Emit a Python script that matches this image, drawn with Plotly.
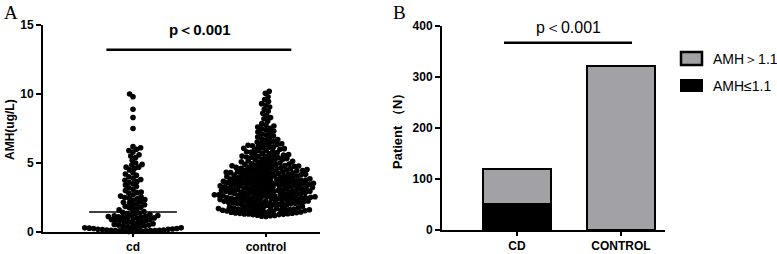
import math
import numpy as np
import plotly.graph_objects as go

W, H = 777, 254

# ---------------- data ----------------
groups_a = ["cd", "control"]
cd_low = [0.02, 0.03, 0.05, 0.05, 0.06, 0.08, 0.08, 0.1, 0.1, 0.1, 0.12, 0.12, 0.15, 0.15, 0.18,
          0.2, 0.2, 0.22, 0.25, 0.25, 0.28, 0.3, 0.3, 0.32, 0.35, 0.38, 0.4, 0.4, 0.45, 0.5,
          0.5, 0.55, 0.6, 0.62, 0.65, 0.7, 0.7, 0.75, 0.8, 0.82, 0.85, 0.9, 0.9, 0.95, 1.0,
          1.0, 1.02, 1.05, 1.08, 1.1]
cd_high = [1.12, 1.15, 1.18, 1.2, 1.24, 1.27, 1.3, 1.33, 1.38, 1.42, 1.48, 1.55, 1.6, 1.68, 1.75,
           1.8, 1.86, 1.92, 1.97,
           2.05, 2.1, 2.15, 2.2, 2.3, 2.35, 2.4, 2.45, 2.5, 2.55, 2.6, 2.7, 2.8, 2.85, 2.9, 3.0,
           3.1, 3.2, 3.3, 3.4, 3.5, 3.6, 3.65, 3.75, 3.8, 3.9, 4.0,
           4.1, 4.2, 4.3, 4.5, 4.6, 4.7, 4.7, 4.85, 4.9,
           5.0, 5.2, 5.4, 5.5, 5.6, 5.8, 5.9, 6.0, 6.1, 6.2,
           7.5, 8.3, 8.9, 9.8, 10.0]
cd_values = cd_low + cd_high

control_values = [
    1.12, 1.15, 1.18, 1.2, 1.22, 1.25, 1.26, 1.28, 1.3, 1.31, 1.33, 1.35, 1.36, 1.38, 1.4, 1.42, 1.44, 1.45, 1.47, 1.49,
    1.5, 1.51, 1.52, 1.54, 1.55, 1.56, 1.58, 1.59, 1.6, 1.61, 1.63, 1.64, 1.66, 1.67, 1.69, 1.7, 1.72, 1.73, 1.75, 1.77,
    1.78, 1.8, 1.82, 1.84, 1.85, 1.88, 1.9, 1.92, 1.95, 1.98,
    2.0, 2.01, 2.03, 2.04, 2.06, 2.07, 2.09, 2.1, 2.11, 2.13, 2.14, 2.16, 2.17, 2.19, 2.2, 2.22, 2.23, 2.25, 2.26, 2.28,
    2.29, 2.31, 2.32, 2.34, 2.35, 2.37, 2.38, 2.4, 2.41, 2.43, 2.44, 2.45, 2.46, 2.48, 2.49,
    2.5, 2.51, 2.53, 2.54, 2.55, 2.57, 2.58, 2.6, 2.61, 2.63, 2.64, 2.66, 2.67, 2.69, 2.7, 2.72, 2.73, 2.74, 2.76, 2.77,
    2.79, 2.8, 2.82, 2.83, 2.85, 2.86, 2.88, 2.89, 2.9, 2.92, 2.93, 2.95, 2.96, 2.98, 2.99,
    3.0, 3.01, 3.03, 3.04, 3.06, 3.07, 3.09, 3.1, 3.12, 3.13, 3.15, 3.16, 3.18, 3.19, 3.21, 3.22, 3.24, 3.25, 3.27, 3.28,
    3.3, 3.31, 3.33, 3.34, 3.36, 3.37, 3.39, 3.4, 3.42, 3.43, 3.44, 3.45, 3.46, 3.48, 3.49,
    3.5, 3.52, 3.53, 3.55, 3.56, 3.58, 3.59, 3.61, 3.62, 3.64, 3.65, 3.67, 3.68, 3.7, 3.71, 3.73, 3.74, 3.76, 3.77, 3.79,
    3.8, 3.82, 3.83, 3.85, 3.86, 3.88, 3.89, 3.91, 3.92, 3.94, 3.96, 3.98,
    4.0, 4.02, 4.03, 4.05, 4.07, 4.08, 4.1, 4.12, 4.13, 4.15, 4.17, 4.18, 4.2, 4.22, 4.23, 4.25, 4.27, 4.28, 4.3, 4.32,
    4.33, 4.35, 4.37, 4.38, 4.4, 4.42, 4.43, 4.45, 4.47, 4.49,
    4.5, 4.52, 4.54, 4.56, 4.58, 4.6, 4.62, 4.64, 4.66, 4.68, 4.7, 4.72, 4.74, 4.76, 4.78, 4.8, 4.82, 4.84, 4.86, 4.88,
    4.9, 4.92, 4.95, 4.98,
    5.0, 5.03, 5.06, 5.09, 5.12, 5.15, 5.18, 5.2, 5.23, 5.26, 5.29, 5.32, 5.35, 5.38, 5.41, 5.44, 5.47, 5.49,
    5.5, 5.54, 5.57, 5.61, 5.64, 5.68, 5.71, 5.75, 5.78, 5.82, 5.85, 5.89, 5.93, 5.97,
    6.0, 6.04, 6.07, 6.11, 6.14, 6.18, 6.21, 6.25, 6.28, 6.32, 6.35, 6.39, 6.43, 6.47,
    6.52, 6.58, 6.64, 6.7, 6.76, 6.82, 6.88, 6.95,
    7.02, 7.1, 7.17, 7.25, 7.32, 7.4, 7.47,
    7.52, 7.6, 7.68, 7.76, 7.85,
    8.05, 8.2, 8.3, 8.45,
    8.6, 8.75, 8.9,
    9.05, 9.2, 9.3, 9.45,
    9.6, 9.8,
    10.05, 10.2,
]
a_ticks = [0, 5, 10, 15]
a_pvalue = "p＜0.001"

groups_b = ["CD", "CONTROL"]
amh_low_counts = [50, 0]      # AMH<=1.1
amh_high_counts = [70, 322]   # AMH>1.1
b_ticks = [0, 100, 200, 300, 400]
b_pvalue = "p＜0.001"
legend_labels = ["AMH＞1.1", "AMH≤1.1"]

GRAY = "#a2a2a6"
FONT = "Liberation Sans, Arial, sans-serif"

# ---------------- layout geometry (pixels) ----------------
A_L, A_R, A_T, A_B = 43, 320, 25, 232
B_L, B_R, B_T, B_B = 442, 665, 26, 230
A_YMAX = 15
B_YMAX = 400
A_PX_PER_CAT = 133.0
A_XMIN = -(133 - A_L) / A_PX_PER_CAT
A_XMAX = A_XMIN + (A_R - A_L) / A_PX_PER_CAT
B_PX_PER_CAT = 104.0
B_XMIN = -(517 - B_L) / B_PX_PER_CAT
B_XMAX = B_XMIN + (B_R - B_L) / B_PX_PER_CAT


def swarm_offsets(vals, px_per_unit_y, d):
    """Beeswarm layout: horizontal pixel offsets so points do not overlap."""
    order = np.argsort(vals, kind="stable")
    placed = []
    offs = np.zeros(len(vals))
    for i in order:
        y = vals[i] * px_per_unit_y
        near = [(px, py) for (px, py) in placed if abs(py - y) < d]
        cands = [0.0]
        for px, py in near:
            s = math.sqrt(max(d * d - (py - y) ** 2, 0.0))
            cands += [px + s, px - s]
        cands.sort(key=lambda c: (abs(c), c))
        chosen = 0.0
        for c in cands:
            ok = all((c - px) ** 2 + (y - py) ** 2 >= d * d - 1e-6 for px, py in near)
            if ok:
                chosen = c
                break
        placed.append((chosen, y))
        offs[i] = chosen
    return offs


def pfx(px):
    return px / W


def pfy(py):
    return 1 - py / H


fig = go.Figure()

ppu_a = (A_B - A_T) / A_YMAX
for gi, vals in enumerate([cd_values, control_values]):
    v = np.array(vals, dtype=float)
    off = swarm_offsets(v, ppu_a, 4.4) / A_PX_PER_CAT
    fig.add_trace(go.Scatter(
        x=gi + off, y=v, mode="markers",
        marker=dict(size=5.6, color="black", line=dict(width=0)),
        cliponaxis=False, showlegend=False, xaxis="x", yaxis="y",
        hoverinfo="skip"))
    med = float(np.median(v))
    fig.add_trace(go.Scatter(
        x=[gi - 0.33, gi + 0.33], y=[med, med], mode="lines",
        line=dict(color="black", width=1.5), showlegend=False,
        xaxis="x", yaxis="y", hoverinfo="skip", cliponaxis=False))

# panel B stacked bars
fig.add_trace(go.Bar(
    x=[0, 1], y=amh_low_counts, width=0.65, marker=dict(color="black", line=dict(color="black", width=2.5)),
    name=legend_labels[1], showlegend=False, xaxis="x2", yaxis="y2"))
fig.add_trace(go.Bar(
    x=[0, 1], y=amh_high_counts, width=0.65, marker=dict(color=GRAY, line=dict(color="black", width=2.5)),
    name=legend_labels[0], showlegend=False, xaxis="x2", yaxis="y2"))

axis_common = dict(
    showline=True, linecolor="black", linewidth=2, ticks="outside", ticklen=5, tickwidth=2,
    tickcolor="black", showgrid=False, zeroline=False, automargin=False,
    tickfont=dict(family=FONT, size=12, color="black", weight="bold"),
)
xfont = dict(family=FONT, size=12, color="black", weight="bold")

fig.update_layout(
    template="none",
    width=W, height=H, margin=dict(l=0, r=0, t=0, b=0, pad=0, autoexpand=False),
    paper_bgcolor="white", plot_bgcolor="white", barmode="stack", showlegend=False,
    xaxis=dict(domain=[pfx(A_L), pfx(A_R)], range=[A_XMIN, A_XMAX], tickvals=[0, 1], ticktext=groups_a,
               anchor="y", **{**axis_common, "tickfont": xfont, "ticklen": 3}),
    yaxis=dict(domain=[pfy(A_B), pfy(A_T)], range=[0, A_YMAX], tickvals=a_ticks, anchor="x", **axis_common),
    xaxis2=dict(domain=[pfx(B_L), pfx(B_R)], range=[B_XMIN, B_XMAX], tickvals=[0, 1], ticktext=groups_b,
                anchor="y2", **{**axis_common, "tickfont": xfont, "ticklen": 4}),
    yaxis2=dict(domain=[pfy(B_B), pfy(B_T)], range=[0, B_YMAX], tickvals=b_ticks, anchor="x2", **axis_common),
)

# significance bars
fig.add_shape(type="line", xref="x", yref="y", x0=-0.2, x1=1.19, y0=13.2, y1=13.2,
              line=dict(color="black", width=2.5), opacity=1)
fig.add_shape(type="line", xref="x2", yref="y2", x0=-0.125, x1=1.106, y0=367, y1=367,
              line=dict(color="black", width=2.5), opacity=1)

ann = []
ann.append(dict(x=pfx(200), y=pfy(29), xref="paper", yref="paper", text=a_pvalue, showarrow=False,
                font=dict(family=FONT, size=15, color="black", weight="bold"), xanchor="center", yanchor="middle"))
ann.append(dict(x=pfx(568), y=pfy(27), xref="paper", yref="paper", text=b_pvalue, showarrow=False,
                font=dict(family=FONT, size=16, color="black"), xanchor="center", yanchor="middle"))
ann.append(dict(x=pfx(2), y=pfy(12), xref="paper", yref="paper", text="A", showarrow=False,
                font=dict(family="Liberation Serif, Times New Roman, serif", size=19, color="black"),
                xanchor="left", yanchor="middle"))
ann.append(dict(x=pfx(391), y=pfy(12), xref="paper", yref="paper", text="B", showarrow=False,
                font=dict(family="Liberation Serif, Times New Roman, serif", size=19, color="black"),
                xanchor="left", yanchor="middle"))
ann.append(dict(x=pfx(10), y=pfy(130), xref="paper", yref="paper", text="AMH(ug/L)", showarrow=False,
                textangle=-90, font=dict(family=FONT, size=12, color="black", weight="bold"),
                xanchor="center", yanchor="middle"))
ann.append(dict(x=pfx(397), y=pfy(128), xref="paper", yref="paper", text="Patient （N）", showarrow=False,
                textangle=-90, font=dict(family=FONT, size=13, color="black", weight="bold"),
                xanchor="center", yanchor="middle"))

# legend for panel B
fig.add_shape(type="rect", xref="paper", yref="paper", x0=pfx(681), x1=pfx(702), y0=pfy(65), y1=pfy(52),
              fillcolor=GRAY, line=dict(color="black", width=2.5), opacity=1)
fig.add_shape(type="rect", xref="paper", yref="paper", x0=pfx(680), x1=pfx(703), y0=pfy(92), y1=pfy(79),
              fillcolor="black", line=dict(color="black", width=0), opacity=1)
ann.append(dict(x=pfx(711), y=pfy(58.5), xref="paper", yref="paper", text=legend_labels[0], showarrow=False,
                font=dict(family=FONT, size=14, color="black"), xanchor="left", yanchor="middle"))
ann.append(dict(x=pfx(711), y=pfy(85.5), xref="paper", yref="paper", text=legend_labels[1], showarrow=False,
                font=dict(family=FONT, size=14, color="black"), xanchor="left", yanchor="middle"))

fig.update_layout(annotations=ann)
fig.write_html(
    "out.html",
    config={"displayModeBar": False},
    post_script="document.body.style.margin='0';document.body.style.overflow='hidden';",
)
